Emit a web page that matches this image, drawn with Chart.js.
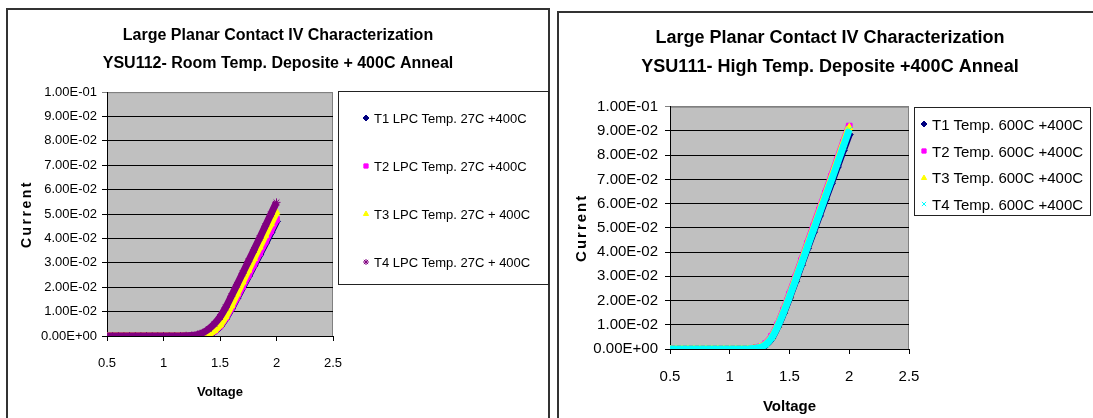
<!DOCTYPE html>
<html lang="en">
<head>
    <meta charset="UTF-8">
    <title>Large Planar Contact IV Characterization</title>
    <style>
        body {
            margin: 0;
            background: #fff;
            width: 1093px;
            height: 418px;
            overflow: hidden;
            position: relative;
            font-family: "Liberation Sans", Arial, sans-serif;
        }
        .frame {
            position: absolute;
            border: 2px solid #333;
            box-sizing: border-box;
        }
        canvas.chart {
            position: absolute;
        }
        .legend {
            position: absolute;
            border: 1px solid #222;
            box-sizing: border-box;
            background: #fff;
            color: #000;
        }
        .legend .item {
            display: flex;
            align-items: center;
            white-space: nowrap;
        }
        .legend canvas {
            display: block;
            flex: none;
        }
    </style>
</head>
<body>
    <div class="frame" style="left:6px; top:8px; width:544px; height:430px;"></div>
    <div class="frame" style="left:557px; top:11px; width:560px; height:430px;"></div>

    <canvas class="chart" id="roomTemp" width="540" height="408" style="left:8px; top:10px;"></canvas>
    <canvas class="chart" id="highTemp" width="542" height="406" style="left:559px; top:13px;"></canvas>

    <div class="legend" id="roomLegend" style="left:338px; top:91px; width:211px; height:194px; padding-top:2px; font-size:13px;"></div>
    <div class="legend" id="highLegend" style="left:914px; top:107px; width:177px; height:109px; padding-top:3px; font-size:15px;"></div>

    <script src="https://cdn.jsdelivr.net/npm/chart.js"></script>
    <script>
    // Voltage sweep (same for every trace), read at 0.05 V steps
    const volts = [0.5, 0.55, 0.6, 0.65, 0.7, 0.75, 0.8, 0.85, 0.9, 0.95, 1.0, 1.05, 1.1, 1.15,
                   1.2, 1.25, 1.3, 1.35, 1.4, 1.45, 1.5, 1.55, 1.6, 1.65, 1.7, 1.75, 1.8, 1.85, 1.9, 1.95, 2.0];

    // YSU112 - room temp deposit
    const roomT1 = [0, 0, 0, 0, 0, 0, 0, 0, 0, 0, 0, 0, 0, 0,
                    0, 0, 0, 0.0002, 0.0007, 0.0019, 0.0039, 0.0071, 0.0111, 0.0155, 0.0199, 0.0243, 0.0288, 0.0333, 0.0378, 0.0424, 0.0470];
    const roomT2 = [0, 0, 0, 0, 0, 0, 0, 0, 0, 0, 0, 0, 0, 0,
                    0, 0, 0, 0.0002, 0.0007, 0.0020, 0.0041, 0.0074, 0.0115, 0.0159, 0.0204, 0.0249, 0.0294, 0.0340, 0.0386, 0.0432, 0.0478];
    const roomT3 = [0, 0, 0, 0, 0, 0, 0, 0, 0, 0, 0, 0, 0, 0,
                    0, 0, 0, 0.0002, 0.0008, 0.0022, 0.0045, 0.0080, 0.0125, 0.0173, 0.0222, 0.0270, 0.0318, 0.0365, 0.0413, 0.0460, 0.0508];
    const roomT4 = [0, 0, 0, 0, 0, 0, 0, 0, 0, 0, 0, 0, 0, 0,
                    0.0001, 0.0002, 0.0006, 0.0014, 0.0029, 0.0050, 0.0078, 0.0117, 0.0163, 0.0210, 0.0257, 0.0305, 0.0353, 0.0401, 0.0450, 0.0499, 0.0548];

    // YSU111 - high temp deposit
    const highT1 = [0, 0, 0, 0, 0, 0, 0, 0, 0, 0, 0, 0, 0, 0,
                    0.0002, 0.0005, 0.0017, 0.0043, 0.0090, 0.0147, 0.0211, 0.0278, 0.0346, 0.0414, 0.0482, 0.0549, 0.0616, 0.0683, 0.0751, 0.0819, 0.0885];
    const highT2 = [0, 0, 0, 0, 0, 0, 0, 0, 0, 0, 0, 0, 0, 0,
                    0.0003, 0.0008, 0.0022, 0.0052, 0.0100, 0.0160, 0.0226, 0.0295, 0.0365, 0.0435, 0.0505, 0.0574, 0.0643, 0.0712, 0.0782, 0.0852, 0.0920];
    const highT3 = [0, 0, 0, 0, 0, 0, 0, 0, 0, 0, 0, 0, 0, 0,
                    0.0002, 0.0007, 0.0020, 0.0048, 0.0096, 0.0155, 0.0220, 0.0289, 0.0358, 0.0428, 0.0497, 0.0566, 0.0635, 0.0704, 0.0774, 0.0845, 0.0915];
    const highT4 = [0, 0, 0, 0, 0, 0, 0, 0, 0, 0, 0, 0, 0, 0,
                    0.0002, 0.0006, 0.0018, 0.0045, 0.0092, 0.0150, 0.0215, 0.0283, 0.0352, 0.0421, 0.0490, 0.0558, 0.0627, 0.0695, 0.0765, 0.0835, 0.0905];

    const roomLabels = ['T1 LPC Temp. 27C +400C', 'T2 LPC Temp. 27C +400C', 'T3 LPC Temp. 27C + 400C', 'T4 LPC Temp. 27C + 400C'];
    const highLabels = ['T1 Temp. 600C +400C', 'T2 Temp. 600C +400C', 'T3 Temp. 600C +400C', 'T4 Temp. 600C +400C'];
    const roomTitle = ['Large Planar Contact IV Characterization', 'YSU112- Room Temp. Deposite + 400C Anneal'];
    const highTitle = ['Large Planar Contact IV Characterization', 'YSU111- High Temp. Deposite +400C Anneal'];

    const xTickLabels = ['0.5', '1', '1.5', '2', '2.5'];
    const yTickLabels = ['0.00E+00', '1.00E-02', '2.00E-02', '3.00E-02', '4.00E-02', '5.00E-02',
                         '6.00E-02', '7.00E-02', '8.00E-02', '9.00E-02', '1.00E-01'];

    Chart.defaults.font.family = '"Liberation Sans", Arial, sans-serif';
    Chart.defaults.color = '#000';

    // grey Excel style plot area, title centred over the whole frame
    const plotBg = {
        id: 'plotBg',
        afterLayout(chart) {
            const t = chart.titleBlock;
            if (t) {
                t.left = 0;
                t.right = chart.width;
                t.width = chart.width;
            }
        },
        beforeDraw(chart) {
            const { ctx, chartArea: a } = chart;
            ctx.save();
            ctx.fillStyle = '#c0c0c0';
            ctx.fillRect(a.left, a.top, a.width, a.height);
            ctx.strokeStyle = '#808080';
            ctx.lineWidth = 1;
            ctx.strokeRect(a.left + 0.5, a.top + 0.5, a.width - 1, a.height);
            ctx.restore();
        }
    };

    // the y axis title is letter spaced in the original
    const spacedTitle = {
        id: 'spacedTitle',
        beforeDraw(chart, args, opts) {
            const s = chart.scales.y;
            if (s._spaced) return;
            const draw = s.drawTitle;
            s.drawTitle = function () {
                this.ctx.save();
                this.ctx.letterSpacing = opts.spacing;
                draw.call(this);
                this.ctx.restore();
            };
            s._spaced = true;
        }
    };

    function makeSet(label, ys, color, style, order) {
        return {
            label: label,
            data: volts.map((v, i) => ({ x: v, y: ys[i] })),
            borderColor: color,
            backgroundColor: color,
            pointStyle: style,
            pointRadius: 4,
            pointBorderWidth: 1,
            borderWidth: 7,
            showLine: true,
            cubicInterpolationMode: 'monotone',
            order: order
        };
    }

    function makeChart(id, cfg) {
        return new Chart(document.getElementById(id), {
            type: 'scatter',
            data: { datasets: cfg.datasets },
            plugins: [plotBg, spacedTitle],
            options: {
                responsive: false,
                animation: false,
                layout: { padding: { right: cfg.padRight } },
                plugins: {
                    legend: { display: false },
                    tooltip: { enabled: false },
                    spacedTitle: { spacing: cfg.spacing },
                    title: {
                        display: true,
                        text: cfg.title,
                        color: '#000',
                        font: { size: cfg.titleSize, weight: 'bold', lineHeight: cfg.titleLine },
                        padding: { top: cfg.titleTop, bottom: cfg.titleBottom }
                    }
                },
                scales: {
                    x: {
                        type: 'linear',
                        min: 0.5,
                        max: 2.5,
                        afterFit: s => { s.height = cfg.xHeight; },
                        ticks: {
                            stepSize: 0.5,
                            maxRotation: 0,
                            autoSkip: false,
                            padding: cfg.xTickPad,
                            font: { size: cfg.tickSize },
                            callback: (v, i) => xTickLabels[i]
                        },
                        grid: { drawOnChartArea: false, color: '#000', tickLength: 5 },
                        border: { color: '#000' },
                        title: {
                            display: true,
                            text: 'Voltage',
                            font: { size: cfg.axisSize, weight: 'bold' },
                            padding: { top: 0, bottom: cfg.xTitlePad }
                        }
                    },
                    y: {
                        min: 0,
                        max: 0.1,
                        afterFit: s => { s.width = cfg.yWidth; },
                        ticks: {
                            stepSize: 0.01,
                            padding: cfg.yTickPad,
                            font: { size: cfg.tickSize },
                            callback: (v, i) => yTickLabels[i]
                        },
                        grid: {
                            color: c => c.index === 10 ? '#808080' : '#000',
                            tickLength: 5
                        },
                        border: { color: '#000' },
                        title: {
                            display: true,
                            text: 'Current',
                            font: { size: cfg.yTitleSize, weight: 'bold' },
                            padding: { top: cfg.yTitlePad, bottom: 0 }
                        }
                    }
                }
            }
        });
    }

    // html legend boxes, markers drawn with Chart.js point helper
    function buildLegend(elId, chart, rowHeight, markerLeft, textGap) {
        const box = document.getElementById(elId);
        chart.data.datasets.forEach(ds => {
            const row = document.createElement('div');
            row.className = 'item';
            row.style.height = rowHeight + 'px';
            row.style.paddingLeft = (markerLeft - 5) + 'px';
            const mk = document.createElement('canvas');
            mk.width = 10;
            mk.height = 10;
            mk.style.marginRight = textGap + 'px';
            const ctx = mk.getContext('2d');
            ctx.fillStyle = ds.backgroundColor;
            ctx.strokeStyle = ds.borderColor;
            ctx.lineWidth = 1;
            if (Chart.helpers && Chart.helpers.drawPoint) {
                Chart.helpers.drawPoint(ctx, { pointStyle: ds.pointStyle, radius: 3, borderWidth: 1, rotation: 0 }, 5, 5);
            } else {
                ctx.fillRect(2, 2, 6, 6);
            }
            row.appendChild(mk);
            const txt = document.createElement('span');
            txt.textContent = ds.label;
            row.appendChild(txt);
            box.appendChild(row);
        });
    }

    const roomChart = makeChart('roomTemp', {
        datasets: [
            makeSet(roomLabels[0], roomT1, '#000080', 'rectRot', 4),
            makeSet(roomLabels[1], roomT2, '#ff00ff', 'rect', 3),
            makeSet(roomLabels[2], roomT3, '#ffff00', 'triangle', 2),
            makeSet(roomLabels[3], roomT4, '#800080', 'star', 1)
        ],
        title: roomTitle, titleSize: 16, titleLine: 1.77, titleTop: 11, titleBottom: 14.5,
        padRight: 215, xHeight: 82, yWidth: 99,
        tickSize: 13, axisSize: 13, yTitleSize: 14, spacing: '2.5px',
        xTickPad: 14.5, xTitlePad: 17.5, yTickPad: 5, yTitlePad: 11
    });

    const highChart = makeChart('highTemp', {
        datasets: [
            makeSet(highLabels[0], highT1, '#000080', 'rectRot', 4),
            makeSet(highLabels[1], highT2, '#ff00ff', 'rect', 3),
            makeSet(highLabels[2], highT3, '#ffff00', 'triangle', 2),
            makeSet(highLabels[3], highT4, '#00ffff', 'crossRot', 1)
        ],
        title: highTitle, titleSize: 18, titleLine: 1.58, titleTop: 11, titleBottom: 25.8,
        padRight: 192, xHeight: 70, yWidth: 111,
        tickSize: 15, axisSize: 15, yTitleSize: 15, spacing: '2px',
        xTickPad: 13.7, xTitlePad: 2.7, yTickPad: 7, yTitlePad: 14
    });

    buildLegend('roomLegend', roomChart, 48, 27, 3);
    buildLegend('highLegend', highChart, 26.7, 9, 3);
    </script>
</body>
</html>
